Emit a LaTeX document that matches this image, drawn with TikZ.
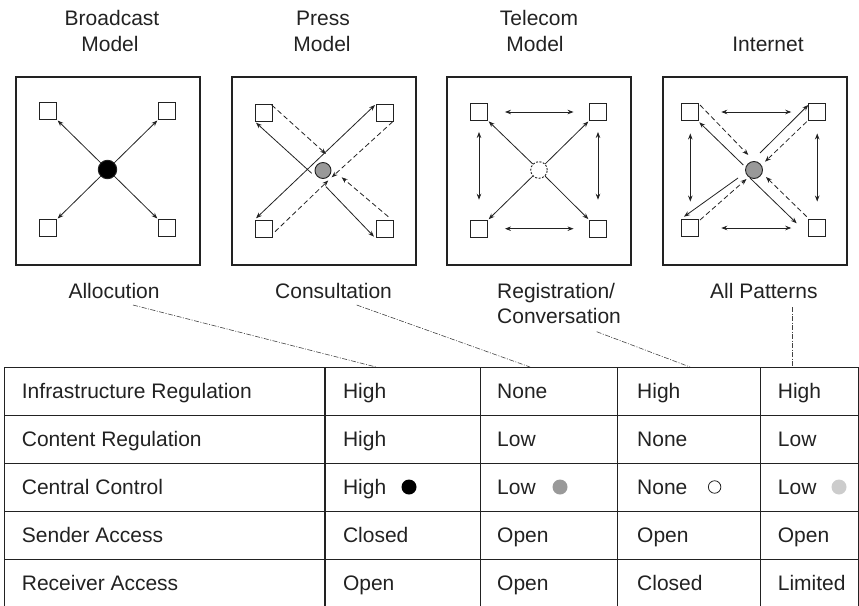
\documentclass[tikz,border=0pt]{standalone}
\usepackage{fontspec}
\setmainfont{Liberation Sans}
\usetikzlibrary{arrows.meta}
\definecolor{ink}{HTML}{222222}
\definecolor{midgray}{HTML}{999999}
\definecolor{palegray}{HTML}{CCCCCC}
\tikzset{
  panel/.style={draw=ink, line width=1.1pt},
  sq/.style={draw=ink, line width=0.9pt, minimum size=17pt, inner sep=0pt, fill=white},
  hub/.style={circle, draw=ink, line width=0.9pt, minimum size=17pt, inner sep=0pt},
  arr/.style={draw=ink, line width=0.8pt, -{Stealth[length=6pt,width=4.5pt]}},
  darr/.style={draw=ink, line width=0.8pt, {Stealth[length=6pt,width=4.5pt]}-{Stealth[length=6pt,width=4.5pt]}},
  dsh/.style={arr, dash pattern=on 5pt off 3pt},
  lbl/.style={font=\fontsize{21}{25}\selectfont, text=ink, inner sep=0pt, anchor=base},
  cell/.style={lbl, anchor=base west},
  leader/.style={draw=ink!85, line width=0.6pt, dash pattern=on 5pt off 1.5pt on 1pt off 1.5pt},
  gridline/.style={draw=ink, line width=1pt},
  dot/.style={circle, inner sep=0pt, minimum size=15pt},
}
\begin{document}
\begin{tikzpicture}[x=1pt,y=-1pt]
\useasboundingbox (0,0) rectangle (859,605);

% ---------- titles ----------
\node[lbl] (t1a) at (112,25) {Broadcast};
\node[lbl] (t1b) at (110,51) {Model};
\node[lbl] (t2a) at (323,25) {Press};
\node[lbl] (t2b) at (322,51) {Model};
\node[lbl] (t3a) at (539,25) {Telecom};
\node[lbl] (t3b) at (535,51) {Model};
\node[lbl] (t4a) at (768,51) {Internet};

% ---------- panels ----------
\draw[panel] (16,77) rectangle (200,265);
\draw[panel] (232,77) rectangle (416,265);
\draw[panel] (447,77) rectangle (631,265);
\draw[panel] (663,77) rectangle (847,265);

% ---------- Broadcast ----------
\node[sq] (a1) at (48,111) {};
\node[sq] (a2) at (167,111) {};
\node[sq] (a3) at (48,228) {};
\node[sq] (a4) at (167,228) {};
\node[hub, fill=black, minimum size=18.5pt] (ac) at (107.5,169.5) {};
\foreach \s in {a1,a2,a3,a4} \draw[arr, shorten >=1pt] (ac) -- (\s);

% ---------- Press ----------
\node[sq] (b1) at (263.5,112.5) {};
\node[sq] (b2) at (384.5,112.5) {};
\node[sq] (b3) at (263.5,229) {};
\node[sq] (b4) at (384.5,229) {};
\node[hub, fill=midgray, minimum size=16pt] (bc) at (323,170.5) {};
\coordinate (bs1) at (256,218.3);   \coordinate (bs2) at (375,105);
\coordinate (bs3) at (311.7,173.3); \coordinate (bs4) at (256,122.7);
\coordinate (bs5) at (326,186.7);   \coordinate (bs6) at (374,236.7);
\draw[darr] (bs1) -- (bs2);
\draw[arr] (bs3) -- (bs4);
\draw[arr] (bs5) -- (bs6);
\coordinate (bd1) at (271.7,105);   \coordinate (bd2) at (326,154);
\coordinate (bd3) at (392.7,121.7); \coordinate (bd4) at (331.7,177.3);
\coordinate (bd5) at (388.3,216.7); \coordinate (bd6) at (341.7,177.3);
\coordinate (bd7) at (275,231.7);   \coordinate (bd8) at (328.3,180.5);
\draw[dsh] (bd1) -- (bd2);
\draw[dsh] (bd3) -- (bd4);
\draw[dsh] (bd5) -- (bd6);
\draw[dsh] (bd7) -- (bd8);

% ---------- Telecom ----------
\node[sq] (c1) at (479,112) {};
\node[sq] (c2) at (598,112) {};
\node[sq] (c3) at (479,228.7) {};
\node[sq] (c4) at (598,228.7) {};
\node[hub, fill=white, dash pattern=on 2pt off 1.5pt, minimum size=16.6pt] (cc) at (539,170) {};
\foreach \s in {c1,c2,c3,c4} \draw[arr, shorten >=1pt] (cc) -- (\s);
\draw[darr, shorten <=17pt, shorten >=15.5pt] (c1) -- (c2);
\draw[darr, shorten <=17pt, shorten >=15.5pt] (c3) -- (c4);
\draw[darr, shorten <=11pt, shorten >=20pt] (c1) -- (c3);
\draw[darr, shorten <=11pt, shorten >=20pt] (c2) -- (c4);

% ---------- Internet ----------
\node[sq] (d1) at (690.3,112) {};
\node[sq] (d2) at (817.2,112) {};
\node[sq] (d3) at (690.3,228) {};
\node[sq] (d4) at (817.2,228) {};
\node[hub, fill=midgray, minimum size=17pt] (dc) at (754,170) {};
\draw[darr, shorten <=22pt, shorten >=17pt] (d1) -- (d2);
\draw[darr, shorten <=22pt, shorten >=17pt] (d3) -- (d4);
\draw[darr, shorten <=12.5pt, shorten >=17.5pt] (d1) -- (d3);
\draw[darr, shorten <=12.5pt, shorten >=17.5pt] (d2) -- (d4);
\coordinate (ds1) at (743.3,165);   \coordinate (ds2) at (699.3,122.3);
\coordinate (ds3) at (760,153);     \coordinate (ds4) at (808.3,105);
\coordinate (ds5) at (750,178);     \coordinate (ds6) at (796.7,223.3);
\coordinate (ds7) at (738,178);     \coordinate (ds8) at (684,216.7);
\draw[arr] (ds1) -- (ds2);
\draw[arr] (ds3) -- (ds4);
\draw[arr] (ds5) -- (ds6);
\draw[arr] (ds7) -- (ds8);
\coordinate (dd1) at (700,105);     \coordinate (dd2) at (748.3,155);
\coordinate (dd3) at (806.7,121.7); \coordinate (dd4) at (765,161.7);
\coordinate (dd5) at (806.7,216.7); \coordinate (dd6) at (766,177);
\coordinate (dd7) at (700,220);     \coordinate (dd8) at (746.5,179);
\draw[dsh] (dd1) -- (dd2);
\draw[dsh] (dd3) -- (dd4);
\draw[dsh] (dd5) -- (dd6);
\draw[dsh] (dd7) -- (dd8);

% ---------- pattern labels ----------
\node[lbl, anchor=base west] (p1) at (68.3,298.3) {Allocution};
\node[lbl, anchor=base west] (p2) at (275,298.3) {Consultation};
\node[lbl, anchor=base west] (p3) at (497,298.3) {Registration/};
\node[lbl, anchor=base west] (p3b) at (497,323.3) {Conversation};
\node[lbl, anchor=base west] (p4) at (710,298.3) {All Patterns};

\coordinate (l1a) at (133,305);   \coordinate (l1b) at (376,367);
\coordinate (l2a) at (356.7,305); \coordinate (l2b) at (530,367);
\coordinate (l3a) at (596.7,331.7); \coordinate (l3b) at (690,367);
\coordinate (l4a) at (792,307);   \coordinate (l4b) at (792,367);
\draw[leader] (l1a) -- (l1b);
\draw[leader] (l2a) -- (l2b);
\draw[leader] (l3a) -- (l3b);
\draw[leader] (l4a) -- (l4b);

% ---------- table ----------
\foreach \y in {367,415,463,511,559} \draw[gridline] (4,\y) -- (858,\y);
\foreach \x in {4,480,617,760,858} \draw[gridline] (\x,367) -- (\x,606);
\draw[gridline, line width=1.8pt] (325,367) -- (325,606);

\node[cell] (r1) at (21.7,398.5) {Infrastructure Regulation};
\node[cell] (r2) at (21.7,446.5) {Content Regulation};
\node[cell] (r3) at (21.7,494.5) {Central Control};
\node[cell] (r4) at (21.7,542.5) {Sender Access};
\node[cell] (r5) at (21.7,590.5) {Receiver Access};

\node[cell] (v11) at (342.8,398.5) {High};
\node[cell] (v12) at (497,398.5) {None};
\node[cell] (v13) at (637,398.5) {High};
\node[cell] (v14) at (777.7,398.5) {High};

\node[cell] (v21) at (342.8,446.5) {High};
\node[cell] (v22) at (497,446.5) {Low};
\node[cell] (v23) at (637,446.5) {None};
\node[cell] (v24) at (777.7,446.5) {Low};

\node[cell] (v31) at (342.8,494.5) {High};
\node[cell] (v32) at (497,494.5) {Low};
\node[cell] (v33) at (637,494.5) {None};
\node[cell] (v34) at (777.7,494.5) {Low};
\node[dot, fill=black] (k1) at (409,487) {};
\node[dot, fill=midgray] (k2) at (560,487) {};
\node[dot, draw=ink, line width=0.8pt, fill=white, minimum size=12.5pt] (k3) at (714.6,487) {};
\node[dot, fill=palegray] (k4) at (839,487) {};

\node[cell] (v41) at (342.8,542.5) {Closed};
\node[cell] (v42) at (497,542.5) {Open};
\node[cell] (v43) at (637,542.5) {Open};
\node[cell] (v44) at (777.7,542.5) {Open};

\node[cell] (v51) at (342.8,590.5) {Open};
\node[cell] (v52) at (497,590.5) {Open};
\node[cell] (v53) at (637,590.5) {Closed};
\node[cell] (v54) at (777.7,590.5) {Limited};
\end{tikzpicture}
\end{document}
